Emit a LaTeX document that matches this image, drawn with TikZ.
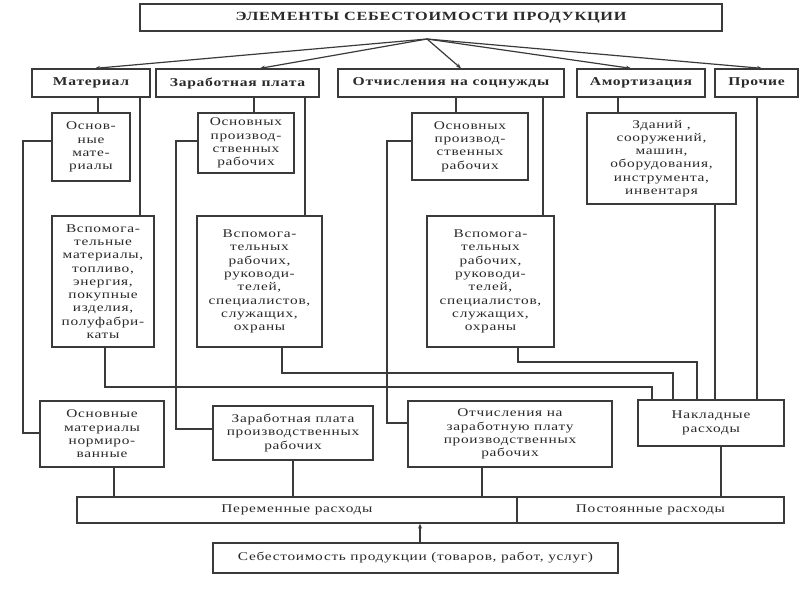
\documentclass[tikz,border=0pt]{standalone}
\usepackage{fontspec}
\setmainfont{Liberation Serif}[FakeStretch=1.3,LetterSpace=6]
\usetikzlibrary{arrows.meta}
\definecolor{lineclr}{HTML}{3A3A3A}
\definecolor{txt}{HTML}{2A2A2A}
\begin{document}
\begin{tikzpicture}[x=1pt,y=-1pt,
  box/.style={draw=lineclr, line width=1.3pt, fill=white, inner sep=1pt, align=center,
    font=\fontsize{11.8}{13.3}\selectfont, text=txt},
  hdr/.style={box, font=\bfseries\fontsize{12}{13}\selectfont},
  ln/.style={draw=lineclr, line width=1.2pt},
  arr/.style={ln, -{Stealth[length=5pt,width=4pt]}}]
\useasboundingbox (0,0) rectangle (800,600);

% title
\node[hdr, minimum width=582pt, minimum height=27pt, font=\bfseries\fontsize{12.5}{13}\selectfont] (title) at (431,17.5) {ЭЛЕМЕНТЫ СЕБЕСТОИМОСТИ ПРОДУКЦИИ};
\coordinate (apex) at (427,39);

% headers
\node[hdr, minimum width=118pt, minimum height=28pt] (m) at (91,83) {Материал};
\node[hdr, minimum width=163pt, minimum height=28pt] (z) at (237.5,83) {Заработная плата};
\node[hdr, minimum width=226pt, minimum height=28pt] (o) at (451,83) {Отчисления на соцнужды};
\node[hdr, minimum width=128pt, minimum height=28pt] (a) at (641,83) {Амортизация};
\node[hdr, minimum width=83pt, minimum height=28pt] (p) at (756.5,83) {Прочие};

% second row
\node[box, minimum width=78pt, minimum height=68pt] (m1) at (91,147) {Основ-\\ные\\мате-\\риалы};
\node[box, minimum width=96pt, minimum height=60pt] (z1) at (246,143) {Основных\\производ-\\ственных\\рабочих};
\node[box, minimum width=116pt, minimum height=67pt] (o1) at (470,146.5) {Основных\\производ-\\ственных\\рабочих};
\node[box, minimum width=149pt, minimum height=91pt] (a1) at (661.5,158.5) {Зданий ,\\сооружений,\\машин,\\оборудования,\\инструмента,\\инвентаря};

% third row
\node[box, minimum width=102pt, minimum height=131pt] (m2) at (103,281.5) {Вспомога-\\тельные\\материалы,\\топливо,\\энергия,\\покупные\\изделия,\\полуфабри-\\каты};
\node[box, minimum width=125pt, minimum height=131pt] (z2) at (259.5,281.5) {Вспомога-\\тельных\\рабочих,\\руководи-\\телей,\\специалистов,\\служащих,\\охраны};
\node[box, minimum width=127pt, minimum height=131pt] (o2) at (490.5,281.5) {Вспомога-\\тельных\\рабочих,\\руководи-\\телей,\\специалистов,\\служащих,\\охраны};

% fourth row
\node[box, minimum width=124pt, minimum height=66pt] (m3) at (102,434) {Основные\\материалы\\нормиро-\\ванные};
\node[box, minimum width=160pt, minimum height=54pt] (z3) at (293,433) {Заработная плата\\производственных\\рабочих};
\node[box, minimum width=204pt, minimum height=66pt] (o3) at (510,434) {Отчисления на\\заработную плату\\производственных\\рабочих};
\node[box, minimum width=146pt, minimum height=46pt] (n) at (711,423) {Накладные\\расходы};

% bottom
\node[box, minimum width=440pt, minimum height=26pt] (var) at (297,510) {Переменные расходы};
\node[box, minimum width=267pt, minimum height=26pt] (const) at (650.5,510) {Постоянные расходы};
\node[box, minimum width=405pt, minimum height=30pt] (seb) at (415.5,558) {Себестоимость продукции (товаров, работ, услуг)};

% arrows from title
\draw[arr] (apex) -- (m.north -| 95,0);
\draw[arr] (apex) -- (z.north -| 260,0);
\draw[arr] (apex) -- (o.north -| 461,0);
\draw[arr] (apex) -- (a.north -| 631,0);
\draw[arr] (apex) -- (p.north -| 762,0);

% header to rows
\draw[ln] (m.south -| 98,0) -- (m1.north -| 98,0);
\draw[ln] (m.south -| 140,0) -- (m2.north -| 140,0);
\draw[ln] (z.south -| 254,0) -- (z1.north -| 254,0);
\draw[ln] (z.south -| 305,0) -- (z2.north -| 305,0);
\draw[ln] (o.south -| 456,0) -- (o1.north -| 456,0);
\draw[ln] (o.south -| 543,0) -- (o2.north -| 543,0);
\draw[ln] (a.south -| 618,0) -- (a1.north -| 618,0);
\draw[ln] (p.south -| 757,0) -- (n.north -| 757,0);
\draw[ln] (a1.south -| 715,0) -- (n.north -| 715,0);

% bypass lines
\draw[ln] (m1.west |- 0,141) -- (23,141) |- (m3.west |- 0,433);
\draw[ln] (z1.west |- 0,141) -- (176,141) |- (z3.west |- 0,429);
\draw[ln] (o1.west |- 0,141) -- (387,141) |- (o3.west |- 0,423);

% third row to overheads
\draw[ln] (m2.south -| 105,0) -- (105,387) -- (652,387) -- (n.north -| 652,0);
\draw[ln] (z2.south -| 282,0) -- (282,373) -- (673,373) -- (n.north -| 673,0);
\draw[ln] (o2.south -| 518,0) -- (518,362) -- (697,362) -- (n.north -| 697,0);

% fourth row to bottom
\draw[ln] (m3.south -| 114,0) -- (var.north -| 114,0);
\draw[ln] (z3.south -| 293,0) -- (var.north -| 293,0);
\draw[ln] (o3.south -| 482,0) -- (var.north -| 482,0);
\draw[ln] (n.south -| 721,0) -- (const.north -| 721,0);

\draw[arr] (seb.north -| 420,0) -- (var.south -| 420,0);
\end{tikzpicture}
\end{document}
